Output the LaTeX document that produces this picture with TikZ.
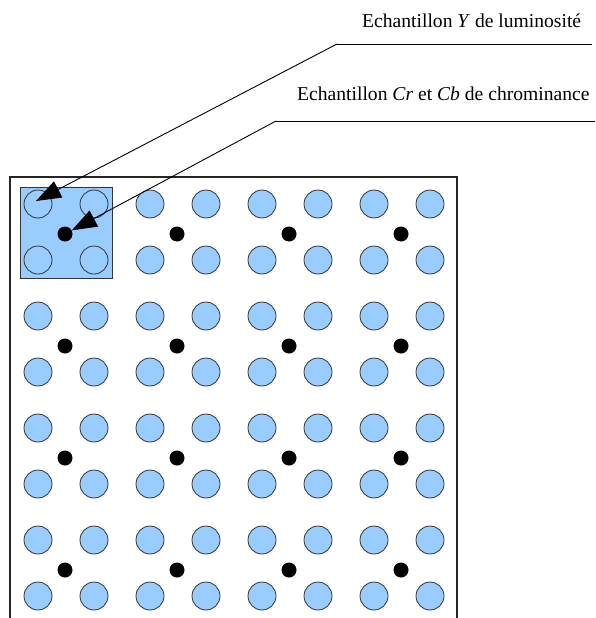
\documentclass[tikz,border=0pt]{standalone}
\usepackage{fontspec}
\setmainfont{Liberation Serif}
\usetikzlibrary{arrows.meta}
\definecolor{lumblue}{HTML}{99CCFF}
\definecolor{edgegray}{HTML}{333333}
\tikzset{
  ysample/.style={circle,draw=edgegray,fill=lumblue,line width=0.8pt,minimum size=28pt,inner sep=0pt},
  csample/.style={circle,fill=black,minimum size=15pt,inner sep=0pt},
  blockbox/.style={draw=edgegray,fill=lumblue,line width=0.8pt},
  framebox/.style={draw=black!85,line width=1.3pt},
  callout/.style={draw=black,line width=0.9pt},
  pointer/.style={callout,-{Triangle[length=25pt,width=18pt]}},
  lbl/.style={font=\fontsize{19.6pt}{24pt}\selectfont,inner sep=0pt,anchor=base west}
}
\begin{document}
\begin{tikzpicture}[x=1pt,y=-1pt]
\useasboundingbox (0,0) rectangle (595,618);
% frame
\draw[framebox] (10,618) -- (10,177) -- (457,177) -- (457,618);
% highlighted 2x2 block
\node[blockbox,minimum width=92pt,minimum height=91pt,inner sep=0pt] (block) at (66.5,232.5) {};
% luminance samples
\foreach \i/\x in {1/38,2/94,3/150,4/206,5/262,6/318,7/374,8/430}{
  \foreach \j/\y in {1/204,2/260,3/316,4/372,5/428,6/484,7/540,8/596}{
    \node[ysample] (y\i\j) at (\x,\y) {};
  }
}
% chrominance samples
\foreach \i/\x in {1/65,2/177,3/289,4/401}{
  \foreach \j/\y in {1/234,2/346,3/458,4/570}{
    \node[csample] (c\i\j) at (\x,\y) {};
  }
}
% labels
\node[lbl] (lumlabel) at (362,28) {Echantillon \textit{Y} de luminosité};
\node[lbl] (chrlabel) at (297,100) {Echantillon \textit{Cr} et \textit{Cb} de chrominance};
% callout lines
\coordinate (lumend) at (592,44);
\coordinate (lumbend) at (337,44);
\coordinate (lumtip) at (36,201);
\coordinate (chrend) at (595,121);
\coordinate (chrbend) at (276,121);
\draw[callout] (lumend) -- (lumbend);
\draw[pointer] (lumbend) -- (lumtip);
\draw[callout] (chrend) -- (chrbend);
\draw[pointer] (chrbend) -- (c11);
\end{tikzpicture}
\end{document}
